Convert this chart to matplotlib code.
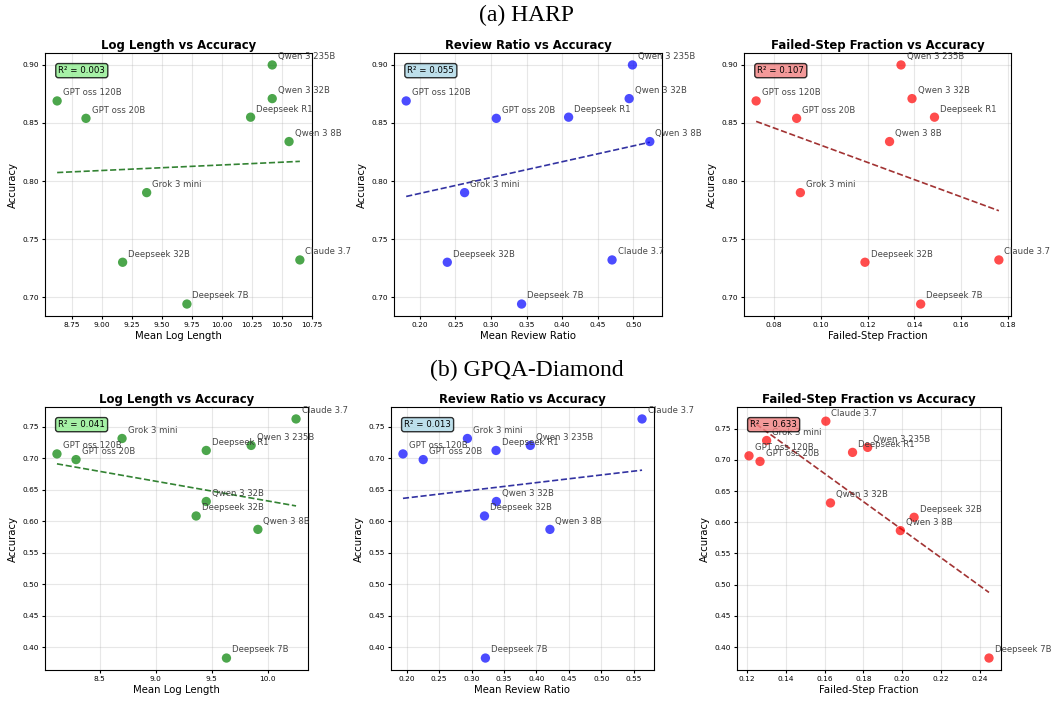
import matplotlib.pyplot as plt
import numpy as np

models = ["GPT oss 120B", "GPT oss 20B", "Grok 3 mini", "Deepseek 32B", "Deepseek 7B",
          "Deepseek R1", "Qwen 3 235B", "Qwen 3 32B", "Qwen 3 8B", "Claude 3.7"]

# HARP
harp_acc = [0.869, 0.854, 0.790, 0.730, 0.694, 0.855, 0.900, 0.871, 0.834, 0.732]
harp_loglen = [8.63, 8.87, 9.375, 9.175, 9.71, 10.24, 10.42, 10.42, 10.56, 10.65]
harp_review = [0.181, 0.3075, 0.263, 0.2387, 0.343, 0.409, 0.4986, 0.494, 0.523, 0.470]
harp_failed = [0.0724, 0.0897, 0.0913, 0.1189, 0.1427, 0.1486, 0.1343, 0.139, 0.1294, 0.1761]
harp_r2 = ["0.003", "0.055", "0.107"]

# GPQA-Diamond
gpqa_acc = [0.7065, 0.6975, 0.731, 0.608, 0.3825, 0.712, 0.720, 0.631, 0.5867, 0.762]
gpqa_loglen = [8.12, 8.29, 8.70, 9.36, 9.63, 9.45, 9.85, 9.45, 9.91, 10.25]
gpqa_review = [0.1944, 0.2256, 0.2937, 0.320, 0.3214, 0.3378, 0.3906, 0.3383, 0.4208, 0.5627]
gpqa_failed = [0.1209, 0.1266, 0.130, 0.2062, 0.2449, 0.1744, 0.1822, 0.163, 0.1991, 0.1606]
gpqa_r2 = ["0.041", "0.013", "0.633"]

titles = ["Log Length vs Accuracy", "Review Ratio vs Accuracy", "Failed-Step Fraction vs Accuracy"]
xlabels = ["Mean Log Length", "Mean Review Ratio", "Failed-Step Fraction"]
colors = ["green", "blue", "red"]
line_colors = ["darkgreen", "darkblue", "darkred"]
box_colors = ["lightgreen", "lightblue", "lightcoral"]

fig = plt.figure(figsize=(10.53, 7.08), dpi=100)

# axes rectangles in pixels: left, top, right, bottom
rects = [
    [(45, 53, 312, 316), (394, 53, 662, 316), (744, 53, 1011, 316)],
    [(45, 407, 308, 670), (391, 407, 654, 670), (737, 407, 1001, 670)],
]
W, H = 1053, 708

rows = [
    ([harp_loglen, harp_review, harp_failed], harp_acc, harp_r2),
    ([gpqa_loglen, gpqa_review, gpqa_failed], gpqa_acc, gpqa_r2),
]

for r, (xs_list, acc, r2s) in enumerate(rows):
    for c in range(3):
        l, t, rr, b = rects[r][c]
        ax = fig.add_axes([l / W, 1 - b / H, (rr - l) / W, (b - t) / H])
        x = np.array(xs_list[c])
        y = np.array(acc)
        ax.scatter(x, y, s=45, color=colors[c], alpha=0.7, edgecolors="none", zorder=3)
        for name, xi, yi in zip(models, x, y):
            ax.annotate(name, (xi, yi), xytext=(4, 4), textcoords="offset points",
                        fontsize=6.1, color="#333333", alpha=0.9)
        k, m = np.polyfit(x, y, 1)
        xx = np.linspace(x.min(), x.max(), 100)
        ax.plot(xx, k * xx + m, "--", color=line_colors[c], alpha=0.8, linewidth=1.2)
        ax.text(0.05, 0.95, f"R² = {r2s[c]}", transform=ax.transAxes, fontsize=6.2,
                va="top", bbox=dict(boxstyle="round,pad=0.3", facecolor=box_colors[c], alpha=0.8))
        ax.set_title(titles[c], fontsize=8.4, fontweight="bold", pad=3)
        ax.set_xlabel(xlabels[c], fontsize=7.3, labelpad=2)
        ax.set_ylabel("Accuracy", fontsize=7.3, labelpad=3)
        ax.tick_params(labelsize=5.3, length=2.5, pad=2)
        ax.grid(True, alpha=0.3)

fig.text(0.5, 1 - 15 / H, "(a) HARP", ha="center", va="center",
         family="Liberation Serif", fontsize=17)
fig.text(0.5, 1 - 370 / H, "(b) GPQA-Diamond", ha="center", va="center",
         family="Liberation Serif", fontsize=17)

plt.savefig("out.png", dpi=100)
